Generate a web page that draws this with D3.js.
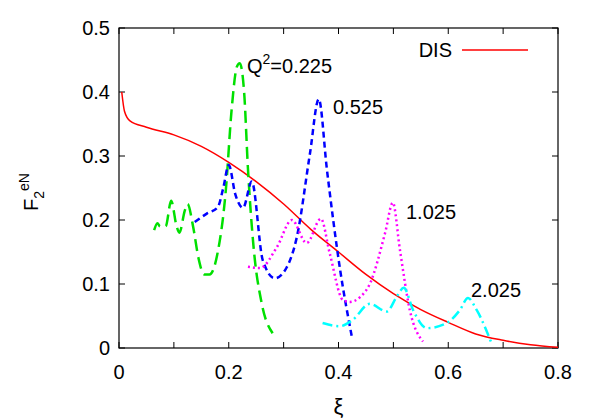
<!DOCTYPE html>
<html><head><meta charset="utf-8">
<script src="https://cdn.jsdelivr.net/npm/d3@7"></script>
<style>body{margin:0;background:#fff}text{font-family:"Liberation Sans",Arial,sans-serif}</style>
</head><body><svg id="c" width="598" height="419"></svg>
<script>
// data: [xi, F2]
var dis = [[0.005,0.40],[0.01,0.37],[0.02,0.355],[0.05,0.345],[0.1,0.333],[0.15,0.315],[0.2,0.29],[0.25,0.26],[0.3,0.225],[0.35,0.185],[0.4,0.15],[0.45,0.115],[0.5,0.085],[0.55,0.06],[0.6,0.04],[0.65,0.022],[0.7,0.012],[0.75,0.005],[0.8,0.001]];
var q0225 = [[0.064,0.184],[0.07,0.195],[0.075,0.19],[0.085,0.19],[0.095,0.23],[0.105,0.19],[0.11,0.18],[0.12,0.215],[0.125,0.225],[0.135,0.19],[0.145,0.14],[0.155,0.115],[0.165,0.115],[0.18,0.15],[0.195,0.25],[0.205,0.37],[0.215,0.44],[0.22,0.445],[0.228,0.40],[0.235,0.28],[0.245,0.16],[0.26,0.07],[0.28,0.023]];
var q0525 = [[0.138,0.197],[0.16,0.21],[0.18,0.22],[0.19,0.25],[0.2,0.286],[0.212,0.24],[0.226,0.219],[0.242,0.26],[0.262,0.137],[0.284,0.109],[0.305,0.125],[0.324,0.173],[0.348,0.304],[0.364,0.389],[0.379,0.278],[0.403,0.122],[0.424,0.019]];
var q1025 = [[0.235,0.127],[0.257,0.125],[0.288,0.158],[0.315,0.2],[0.342,0.164],[0.368,0.202],[0.384,0.148],[0.408,0.075],[0.42,0.072],[0.44,0.08],[0.457,0.1],[0.485,0.18],[0.499,0.227],[0.512,0.153],[0.53,0.059],[0.554,0.01]];
var q2025 = [[0.371,0.039],[0.402,0.034],[0.426,0.044],[0.457,0.069],[0.488,0.057],[0.506,0.08],[0.519,0.094],[0.536,0.059],[0.561,0.031],[0.597,0.039],[0.621,0.059],[0.636,0.078],[0.652,0.059],[0.68,0.005]];
var xTicks = [0, 0.2, 0.4, 0.6, 0.8];
var yTicks = [0, 0.1, 0.2, 0.3, 0.4, 0.5];

var svg = d3.select("#c");
var L = 119, R = 558, T = 28, B = 348;
var x = d3.scaleLinear().domain([0, 0.8]).range([L, R]);
var y = d3.scaleLinear().domain([0, 0.5]).range([B, T]);

var ax = svg.append("g").attr("stroke", "#000").attr("stroke-width", 1);
d3.range(0, 0.81, 0.1).forEach(function(v) {
    ax.append("line").attr("x1", x(v)).attr("x2", x(v)).attr("y1", B).attr("y2", B - 6);
    ax.append("line").attr("x1", x(v)).attr("x2", x(v)).attr("y1", T).attr("y2", T + 6);
});
yTicks.forEach(function(v) {
    ax.append("line").attr("x1", L).attr("x2", L + 6).attr("y1", y(v)).attr("y2", y(v));
    ax.append("line").attr("x1", R).attr("x2", R - 6).attr("y1", y(v)).attr("y2", y(v));
});
svg.append("rect").attr("x", L).attr("y", T).attr("width", R - L).attr("height", B - T)
    .attr("fill", "none").attr("stroke", "#000").attr("stroke-width", 1.2);

svg.selectAll(".xt").data(xTicks).enter().append("text")
    .attr("x", d => x(d)).attr("y", B + 31).attr("text-anchor", "middle")
    .attr("font-size", 20).text(d => d === 0 ? "0" : d3.format(".1f")(d));
svg.selectAll(".yt").data(yTicks).enter().append("text")
    .attr("x", L - 9).attr("y", d => y(d) + 7).attr("text-anchor", "end")
    .attr("font-size", 20).text(d => d === 0 ? "0" : d3.format(".1f")(d));

svg.append("text").attr("x", x(0.4)).attr("y", 414).attr("text-anchor", "middle")
    .attr("font-size", 22).text("ξ");
var yl = svg.append("text").attr("transform", "translate(38,192) rotate(-90)")
    .attr("text-anchor", "middle").attr("font-size", 20);
yl.append("tspan").text("F");
yl.append("tspan").attr("font-size", 14).attr("dy", 6).text("2");
yl.append("tspan").attr("font-size", 14).attr("dy", -15).text("eN");

var line = d3.line().x(d => x(d[0])).y(d => y(d[1])).curve(d3.curveMonotoneX);
var series = [
    {d: dis, c: "#ff0000", dash: null},
    {d: q0225, c: "#00e000", dash: "12,6"},
    {d: q0525, c: "#0000ff", dash: "6,4"},
    {d: q1025, c: "#ff00ff", dash: "2,3"},
    {d: q2025, c: "#00ffff", dash: "10,4,2,4"}
];
series.forEach(function(s) {
    svg.append("path").attr("d", line(s.d)).attr("fill", "none")
        .attr("stroke", s.c).attr("stroke-width", s.dash ? 2.5 : 1.5)
        .attr("stroke-dasharray", s.dash);
});

var q = svg.append("text").attr("x", 247).attr("y", 73).attr("font-size", 20);
q.append("tspan").text("Q");
q.append("tspan").attr("font-size", 14).attr("dy", -9).text("2");
q.append("tspan").attr("dy", 9).text("=0.225");
svg.append("text").attr("x", 333).attr("y", 114).attr("font-size", 20).text("0.525");
svg.append("text").attr("x", 406).attr("y", 219).attr("font-size", 20).text("1.025");
svg.append("text").attr("x", 471).attr("y", 297).attr("font-size", 20).text("2.025");

svg.append("text").attr("x", 452).attr("y", 57).attr("text-anchor", "end").attr("font-size", 20).text("DIS");
svg.append("line").attr("x1", 462).attr("x2", 528).attr("y1", 50).attr("y2", 50)
    .attr("stroke", "#ff0000").attr("stroke-width", 1.5);
</script></body></html>
